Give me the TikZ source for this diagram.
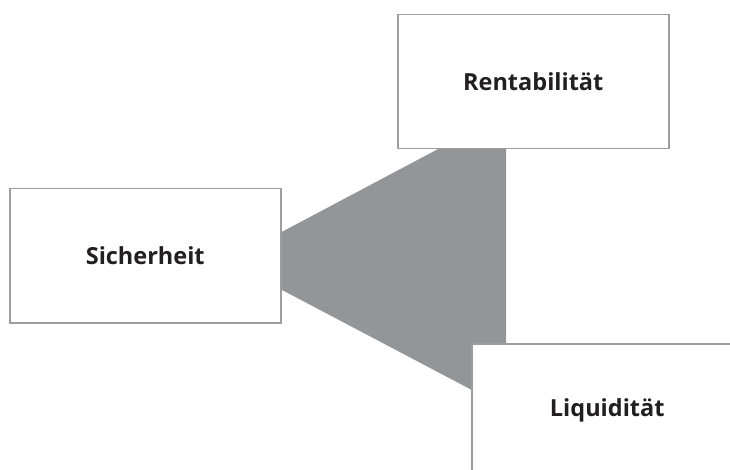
\documentclass[tikz,border=0pt]{standalone}
\usepackage{fontspec}
\setmainfont{Open Sans}
\usetikzlibrary{backgrounds}

\definecolor{boxgray}{HTML}{9D9D9F}
\definecolor{wedgegray}{HTML}{939598}
\definecolor{textblack}{HTML}{231F20}

\begin{document}
\begin{tikzpicture}[x=1pt, y=-1pt,
    box/.style={draw=boxgray, line width=1.5pt, fill=white, anchor=north west,
        minimum width=\bw pt, minimum height=\bh pt, inner sep=0pt,
        text=textblack, font=\bfseries\fontsize{23.5}{28}\selectfont}]

    % Canvas
    \def\w{730}
    \def\h{470}
    \def\bw{271}    % box width
    \def\bh{134}    % box height
    \useasboundingbox (0,0) rectangle (\w,\h);
    \clip (0,0) rectangle (\w,\h);

    % Boxes
    \node[box] (sicherheit)   at (9,188)   {Sicherheit};
    \node[box] (rentabilitaet) at (397,14) {Rentabilität};
    \node[box] (liquiditaet)  at (471,343) {Liquidität};

    % Wedge behind the boxes
    \begin{pgfonlayer}{background}
        \fill[wedgegray] (227,261) -- (506,113) -- (506,408) -- cycle;
    \end{pgfonlayer}

\end{tikzpicture}
\end{document}
